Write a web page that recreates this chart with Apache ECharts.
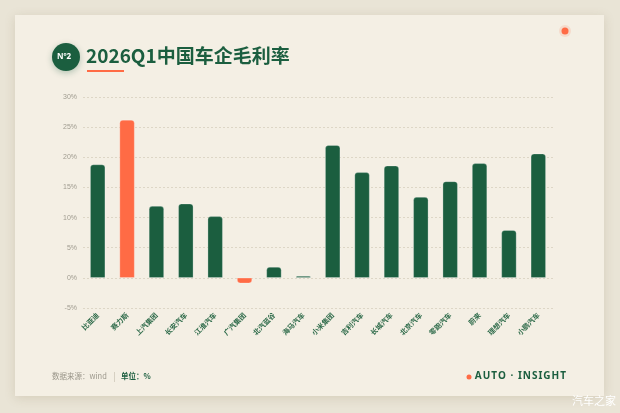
<!DOCTYPE html>
<html>
<head>
<meta charset="utf-8">
<script src="https://cdn.jsdelivr.net/npm/echarts@6/dist/echarts.min.js"></script>
<style>
  html, body { margin: 0; padding: 0; background: #e9e4d6; }
  #container { width: 620px; height: 413px; }
</style>
</head>
<body>
<div id="container"></div>
<script>
var categories = ['比亚迪', '赛力斯', '上汽集团', '长安汽车', '江淮汽车', '广汽集团', '北汽蓝谷', '海马汽车',
    '小米集团', '吉利汽车', '长城汽车', '北京汽车', '零跑汽车', '蔚来', '理想汽车', '小鹏汽车'];
var margins = [18.8, 26.2, 11.9, 12.3, 10.2, -0.9, 1.8, 0.3, 22.0, 17.5, 18.6, 13.4, 16.0, 19.0, 7.9, 20.6];
var highlighted = ['赛力斯', '广汽集团'];
var yTicks = [-5, 0, 5, 10, 15, 20, 25, 30];

var green = '#1b5e3f';
var orange = '#ff6b45';

var dom = document.getElementById('container');
var myChart = echarts.init(dom, null, {renderer: 'canvas'});

var barData = margins.map(function (v, i) {
    var hot = highlighted.indexOf(categories[i]) >= 0;
    return {
        value: v,
        itemStyle: {
            color: hot ? orange : green,
            borderRadius: v >= 0 ? [3, 3, 0, 0] : [0, 0, 3, 3]
        }
    };
});

// 字母间加极细空格，模拟字间距
var brand = 'AUTO · INSIGHT'.split('').join('\u200A');

var option = {
    backgroundColor: '#e9e4d6',
    graphic: [
        {
            type: 'rect', z: -10,
            shape: {x: 15, y: 15, width: 589, height: 381},
            style: {fill: '#f4efe4', shadowBlur: 10, shadowColor: 'rgba(120,100,60,0.18)', shadowOffsetY: 2}
        },
        {
            type: 'circle', z: 5,
            shape: {cx: 66, cy: 57, r: 14},
            style: {fill: green, shadowBlur: 6, shadowColor: 'rgba(27,94,63,0.3)', shadowOffsetY: 2}
        },
        {
            type: 'text', z: 6, left: 57, top: 53,
            style: {text: 'Nº2', fill: '#ffffff', font: 'bold 8px "Noto Sans"'}
        },
        {
            type: 'text', z: 6, left: 86, top: 46,
            style: {text: '2026Q1中国车企毛利率', fill: green, font: 'bold 19px "Noto Sans CJK SC"'}
        },
        {
            type: 'rect', z: 6,
            shape: {x: 87, y: 70, width: 37, height: 2},
            style: {fill: orange}
        },
        {
            type: 'circle', z: 6,
            shape: {cx: 565, cy: 31, r: 6},
            style: {fill: 'rgba(255,107,69,0.15)'}
        },
        {
            type: 'circle', z: 6,
            shape: {cx: 565, cy: 31, r: 3.5},
            style: {fill: orange}
        },
        {
            type: 'text', z: 6, left: 52, top: 372,
            style: {text: '数据来源：wind', fill: '#9a968a', font: '7.5px "Noto Sans CJK SC"'}
        },
        {
            type: 'rect', z: 6,
            shape: {x: 114, y: 372, width: 1, height: 10},
            style: {fill: '#d6d0c2'}
        },
        {
            type: 'text', z: 6, left: 121, top: 372,
            style: {text: '单位：%', fill: green, font: 'bold 7.5px "Noto Sans CJK SC"'}
        },
        {
            type: 'circle', z: 6,
            shape: {cx: 469, cy: 377, r: 2.5},
            style: {fill: orange}
        },
        {
            type: 'text', z: 6, right: 54, top: 371,
            style: {text: brand, fill: green, font: 'bold 10px "Noto Sans"'}
        },
        {
            type: 'text', z: 6, right: 4, top: 395,
            style: {text: '汽车之家', fill: '#ffffff', font: '11px "Noto Sans CJK SC"'}
        }
    ],
    grid: {
        left: 83,
        right: 67,
        top: 97,
        bottom: 105
    },
    xAxis: {
        type: 'category',
        data: categories,
        axisLine: {show: false},
        axisTick: {show: false},
        axisLabel: {
            interval: 0,
            rotate: 45,
            margin: 6,
            color: '#2e6b4a',
            fontSize: 7,
            fontWeight: 'bold',
            fontFamily: 'Noto Sans CJK SC'
        }
    },
    yAxis: {
        type: 'value',
        min: yTicks[0],
        max: yTicks[yTicks.length - 1],
        interval: 5,
        axisLine: {show: false},
        axisTick: {show: false},
        axisLabel: {
            formatter: '{value}%',
            color: '#a09c90',
            fontSize: 7,
            margin: 6
        },
        splitLine: {
            lineStyle: {color: '#ddd6c6', type: [2, 2], width: 1}
        }
    },
    series: [
        {
            type: 'bar',
            barWidth: 15,
            data: barData,
            itemStyle: {borderColor: 'rgba(255,255,255,0.5)', borderWidth: 0.5}
        }
    ]
};

myChart.setOption(option, true);
</script>
</body>
</html>
